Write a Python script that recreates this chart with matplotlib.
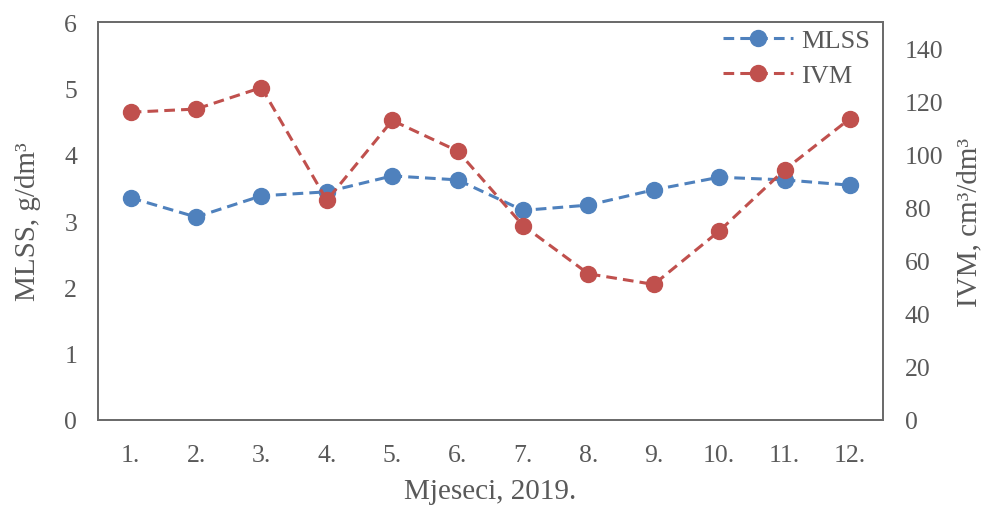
import matplotlib.pyplot as plt

plt.rcParams["font.family"] = ["Liberation Serif", "DejaVu Serif"]

months = ["1.", "2.", "3.", "4.", "5.", "6.", "7.", "8.", "9.", "10.", "11.", "12."]
mlss = [3.35, 3.06, 3.38, 3.44, 3.68, 3.62, 3.16, 3.24, 3.47, 3.66, 3.62, 3.54]
ivm = [116.0, 117.2, 125.3, 82.8, 112.9, 101.4, 73.3, 55.1, 51.1, 71.2, 94.3, 113.6]

BLUE = "#4F81BD"
RED = "#C0504D"
TXT = "#595959"

fig = plt.figure(figsize=(9.84, 5.06), dpi=100)
ax = fig.add_axes([0.0996, 0.168, 0.7974, 0.7865])
ax2 = ax.twinx()

x = list(range(1, len(months) + 1))
l1, = ax.plot(x, mlss, color=BLUE, ls=(0, (3.5, 2)), lw=2.2, marker="o",
              ms=11.5, label="MLSS")
l2, = ax2.plot(x, ivm, color=RED, ls=(0, (3.5, 2)), lw=2.2, marker="o",
               ms=11.5, label="IVM")

ax.set_xlim(0.5, 12.5)
ax.set_ylim(0, 6)
ax2.set_ylim(0, 150)
ax.set_xticks(x)
ax.set_xticklabels(months)
ax.set_yticks(range(0, 7))
ax2.set_yticks(range(0, 141, 20))

for a in (ax, ax2):
    a.tick_params(length=0, labelsize=18.5, labelcolor=TXT)
    for s in a.spines.values():
        s.set_color("#6b6b6b")
        s.set_linewidth(1.3)
ax.tick_params(axis="x", pad=17)
ax.tick_params(axis="y", pad=15)
ax2.tick_params(axis="y", pad=16)

ax.set_xlabel("Mjeseci, 2019.", fontsize=21, color=TXT, labelpad=9)
ax.set_ylabel("MLSS, g/dm³", fontsize=21, color=TXT, labelpad=17)
ax2.set_ylabel("IVM, cm³/dm³", fontsize=21, color=TXT, labelpad=9)

ax2.legend([l1, l2], ["MLSS", "IVM"], loc="upper right", frameon=False,
           fontsize=19, labelcolor=TXT, handlelength=2.65, handletextpad=0.3,
           borderaxespad=0.0, borderpad=0.25, labelspacing=0.45,
           bbox_to_anchor=(0.992, 1.0))

fig.savefig("out.png", dpi=100)
